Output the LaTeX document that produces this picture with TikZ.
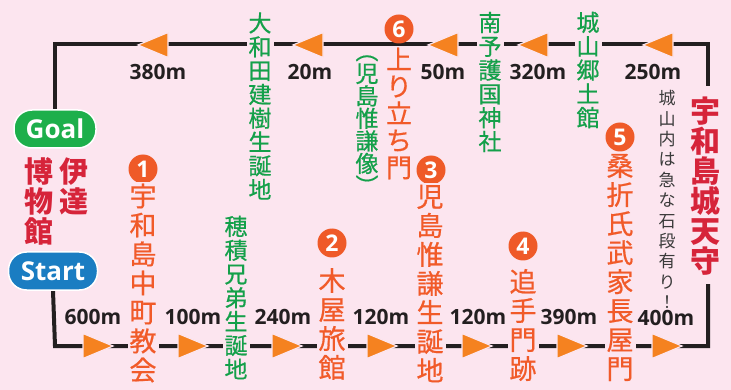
\documentclass[tikz,border=0pt]{standalone}
\usepackage{fontspec}
\newfontfamily\jp{Noto Sans CJK JP}
\newfontfamily\jpm{Noto Sans CJK JP}[FakeBold=0.6]
\newfontfamily\lat{Open Sans}
\definecolor{bgpink}{HTML}{FCE5EF}
\definecolor{routec}{HTML}{231F20}
\definecolor{tric}{HTML}{F58220}
\definecolor{torange}{HTML}{F15A29}
\definecolor{circc}{HTML}{EF5A28}
\definecolor{tgreen}{HTML}{14A04A}
\definecolor{tred}{HTML}{D6243A}
\definecolor{tgrey}{HTML}{3A3A3A}
\definecolor{goalg}{HTML}{1DAF4B}
\definecolor{startb}{HTML}{1A7DC2}
\pgfdeclarelayer{back}
\pgfdeclarelayer{lines}
\pgfsetlayers{back,lines,main}
\tikzset{
  vtext/.style={align=center, inner sep=2pt, fill=bgpink},
  otext/.style={vtext, text=torange, font=\jpm\fontsize{27}{29}\selectfont},
  gtext/.style={vtext, text=tgreen, font=\jpm\fontsize{23}{23.8}\selectfont},
  rtext/.style={vtext, text=tred, font=\jp\bfseries\fontsize{29}{30}\selectfont},
  greytext/.style={vtext, text=tgrey, font=\jp\fontsize{17}{20.4}\selectfont},
  numc/.style={circle, fill=circc, text=white, minimum size=29pt, inner sep=0pt, font=\lat\bfseries\fontsize{23}{23}\selectfont},
  dist/.style={text=routec, inner sep=0pt, font=\lat\bfseries\fontsize{21}{21}\selectfont},
  badge/.style={rounded corners=18pt, draw=white, line width=1.5pt, text=white, minimum height=38pt, inner sep=0pt, font=\lat\bfseries\fontsize{26}{26}\selectfont},
  route/.style={draw=routec, line width=4pt},
  tri/.style={fill=tric, draw=bgpink, line width=1.2pt, line join=miter}
}
\begin{document}
\begin{tikzpicture}[x=1pt,y=-1pt]
\begin{pgfonlayer}{back}
\fill[bgpink] (0,0) rectangle (731,390);
\end{pgfonlayer}
\useasboundingbox (0,0) rectangle (731,390);

% badges
\node[badge, fill=goalg, minimum width=82pt] (goal) at (55,129) {Goal};
\node[badge, fill=startb, minimum width=89pt] (start) at (53,271) {Start};

% red: Date museum and castle
\node[rtext] (date) at (74,186) {伊\\達};
\node[rtext] (museum) at (39,201) {博\\物\\館};
\node[rtext, font=\jp\bfseries\fontsize{30}{30}\selectfont] (castle) at (705,186) {宇\\和\\島\\城\\天\\守};
\node[greytext, fill=none] (note) at (667,199.5) {城\\山\\内\\は\\急\\な\\石\\段\\有\\り\\！};

% numbered stops
\node[numc] (c1) at (143,169) {1};
\node[otext] (s1) at (143,283) {宇\\和\\島\\中\\町\\教\\会};
\node[numc] (c2) at (332,243) {2};
\node[otext] (s2) at (332,324) {木\\屋\\旅\\館};
\node[numc] (c3) at (431,170) {3};
\node[otext] (s3) at (430,283.5) {児\\島\\惟\\謙\\生\\誕\\地};
\node[numc] (c4) at (523,246) {4};
\node[otext] (s4) at (523,325) {追\\手\\門\\跡};
\node[numc] (c5) at (620,137) {5};
\node[otext] (s5) at (620,267.5) {桑\\折\\氏\\武\\家\\長\\屋\\門};
\node[numc] (c6) at (399,29) {6};
\node[otext, font=\jpm\fontsize{26}{27}\selectfont] (s6) at (399,113.5) {上\\り\\立\\ち\\門};

% green sights
\node[gtext] (g1) at (236,297.5) {穂\\積\\兄\\弟\\生\\誕\\地};
\node[gtext] (g2) at (260,106) {大\\和\\田\\建\\樹\\生\\誕\\地};
\node[gtext, fill=none, font=\jpm\fontsize{23}{22.5}\selectfont] (g3) at (367,125) {︵\\児\\島\\惟\\謙\\像\\︶};
\node[gtext] (g4) at (490,82) {南\\予\\護\\国\\神\\社};
\node[gtext] (g5) at (588,70) {城\\山\\郷\\土\\館};

% distances
\node[dist] (d1) at (158,72) {380m};
\node[dist] (d2) at (310,72) {20m};
\node[dist] (d3) at (443,72) {50m};
\node[dist] (d4) at (538,72) {320m};
\node[dist] (d5) at (653,72) {250m};
\node[dist] (d6) at (93,317) {600m};
\node[dist] (d7) at (193,317) {100m};
\node[dist] (d8) at (283,317) {240m};
\node[dist] (d9) at (381,317) {120m};
\node[dist] (d10) at (478,317) {120m};
\node[dist] (d11) at (569,317) {390m};
\node[dist] (d12) at (666,318) {400m};

% route
\coordinate (tl) at (55,44.5);
\coordinate (tr) at (708,44.5);
\coordinate (te) at (708,86);
\coordinate (bl) at (55,346);
\coordinate (br) at (708,346);
\coordinate (be) at (708,284);
\begin{pgfonlayer}{lines}
\draw[route] (goal.north) -- (tl) -- (tr) -- (te);
\draw[route] (start.south) -- (bl) -- (br) -- (be);
\end{pgfonlayer}

% arrows on top route (pointing left)
\foreach \x in {138,293,428,518,643}{
  \path[tri] (\x,45) -- (\x+30,32.5) -- (\x+30,57.5) -- cycle;
}
% arrows on bottom route (pointing right)
\foreach \x in {83,178,272,367,462,557,652}{
  \path[tri] (\x+30,346) -- (\x,333.5) -- (\x,358.5) -- cycle;
}
\end{tikzpicture}
\end{document}
